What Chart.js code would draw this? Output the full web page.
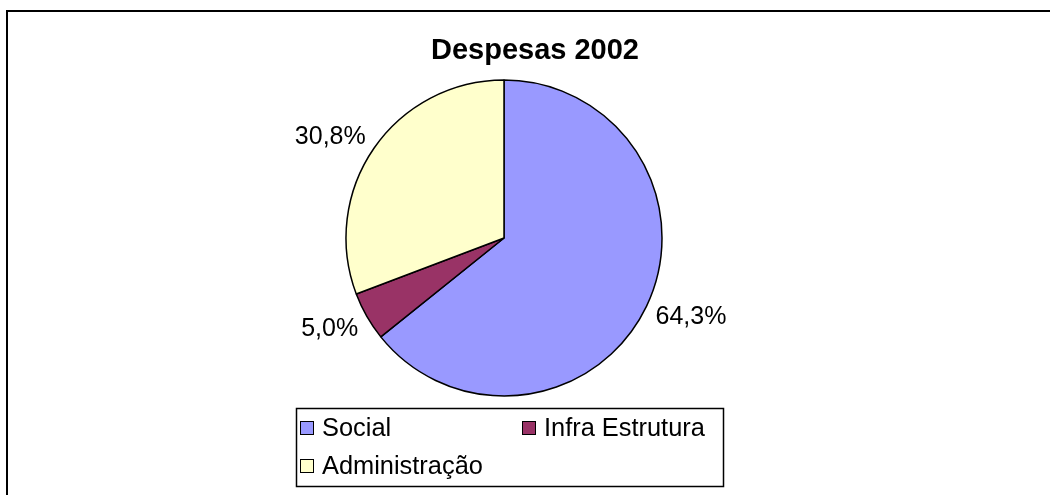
<!DOCTYPE html>
<html>
<head>
<meta charset="utf-8">
<script src="https://cdn.jsdelivr.net/npm/chart.js@4"></script>
<style>
html,body{margin:0;padding:0;background:#fff;}
#wrap{width:1050px;height:495px;position:relative;}
</style>
</head>
<body>
<div id="wrap"><canvas id="c" width="1050" height="495"></canvas></div>
<script>
const chartTitle = "Despesas 2002";
const categories = ["Social", "Infra Estrutura", "Administração"];
const values = [64.3, 5.0, 30.8];
const valueLabels = ["64,3%", "5,0%", "30,8%"];
const colors = ["#9999FF", "#993366", "#FFFFCC"];

const FONT = "'Liberation Sans', Arial, sans-serif";

const decor = {
  id: 'decor',
  afterDraw(chart) {
    const ctx = chart.ctx;
    ctx.save();
    // outer frame
    ctx.strokeStyle = '#000';
    ctx.lineWidth = 2;
    ctx.beginPath();
    ctx.moveTo(7, 495); ctx.lineTo(7, 11); ctx.lineTo(1050, 11);
    ctx.stroke();
    // title
    ctx.fillStyle = '#000';
    ctx.font = "bold 29px " + FONT;
    ctx.textAlign = 'center';
    ctx.textBaseline = 'alphabetic';
    ctx.fillText(chartTitle, 535, 59);
    // data labels
    const meta = chart.getDatasetMeta(0);
    ctx.font = "25px " + FONT;
    ctx.textBaseline = 'middle';
    meta.data.forEach((arc, i) => {
      const mid = (arc.startAngle + arc.endAngle) / 2;
      const dx = Math.cos(mid), dy = Math.sin(mid);
      const r = arc.outerRadius + 10;
      const ax = arc.x + dx * r;
      const ay = arc.y + dy * r + (dy > 0 ? 16 : 10) * dy;
      ctx.textAlign = dx >= 0 ? 'left' : 'right';
      ctx.fillText(valueLabels[i], ax, ay);
    });
    // legend box
    ctx.lineWidth = 1.5;
    ctx.strokeStyle = '#000';
    ctx.strokeRect(296.5, 408.5, 427, 78);
    const pos = [[300, 428], [522, 428], [300, 466]];
    ctx.font = "25.4px " + FONT;
    ctx.textAlign = 'left';
    ctx.textBaseline = 'middle';
    categories.forEach((name, i) => {
      const [x, y] = pos[i];
      ctx.fillStyle = colors[i];
      ctx.fillRect(x, y - 7, 14, 14);
      ctx.lineWidth = 1;
      ctx.strokeRect(x + 0.5, y - 6.5, 13, 13);
      ctx.fillStyle = '#000';
      ctx.fillText(name, x + 22, y + 1);
    });
    ctx.restore();
  }
};

new Chart(document.getElementById('c'), {
  type: 'pie',
  data: {
    labels: categories,
    datasets: [{
      data: values,
      backgroundColor: colors,
      borderColor: '#000',
      borderWidth: 1.5,
      borderAlign: 'center'
    }]
  },
  options: {
    responsive: false,
    animation: false,
    radius: 158,
    layout: { padding: { top: 80, bottom: 99, left: 346, right: 388 } },
    plugins: {
      legend: { display: false },
      title: { display: false },
      tooltip: { enabled: false }
    }
  },
  plugins: [decor]
});
</script>
</body>
</html>
